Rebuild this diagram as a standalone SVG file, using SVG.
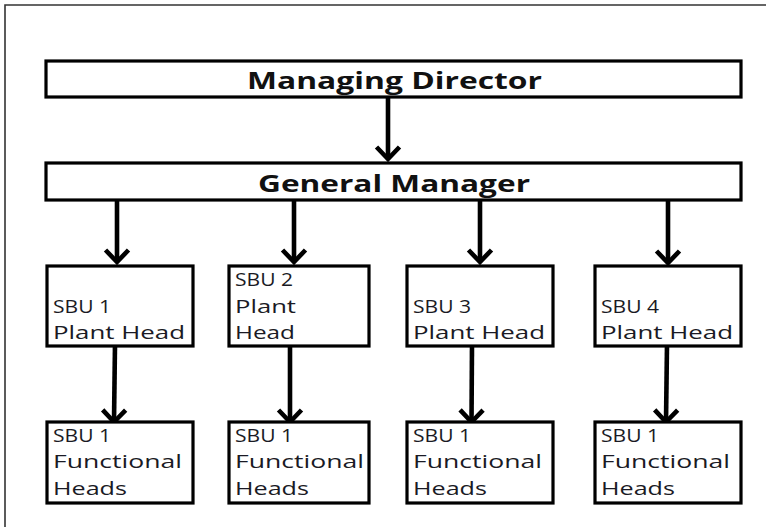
<svg xmlns="http://www.w3.org/2000/svg" width="766" height="527" viewBox="0 0 766 527">
  <defs>
    <style>
      .frame { fill: none; stroke: #333; stroke-width: 1.6; }
      .box { fill: #fff; stroke: #000; stroke-width: 3.2; }
      .title { font-family: "Open Sans", "Liberation Sans", sans-serif; font-weight: bold; font-size: 23px; fill: #111; }
      .label { font-family: "Open Sans", "Liberation Sans", sans-serif; font-size: 17.5px; fill: #1a1a24; }
      .conn { stroke: #000; stroke-width: 4.6; fill: none; marker-end: url(#arrow); }
    </style>
    <marker id="arrow" markerUnits="userSpaceOnUse" markerWidth="40" markerHeight="40" viewBox="-20 -20 40 40" refX="0" refY="0" orient="auto">
      <path d="M -12 -11.5 L 0 0 L -12 11.5" fill="none" stroke="#000" stroke-width="4.6" stroke-linejoin="miter"/>
    </marker>
  </defs>

  <rect width="766" height="527" fill="#fff"/>
  <!-- outer frame (left and top edges) -->
  <path class="frame" d="M 5 527 L 5 5 L 766 5"/>

  <!-- connectors -->
  <g id="connectors">
    <line class="conn" x1="388" y1="98" x2="388" y2="159"/>
    <line class="conn" x1="117" y1="201" x2="117" y2="262"/>
    <line class="conn" x1="294" y1="201" x2="294" y2="262"/>
    <line class="conn" x1="480" y1="201" x2="480" y2="262"/>
    <line class="conn" x1="668" y1="201" x2="668" y2="263"/>
    <line class="conn" x1="115" y1="344" x2="114" y2="422"/>
    <line class="conn" x1="290" y1="344" x2="290" y2="422"/>
    <line class="conn" x1="472" y1="344" x2="471.5" y2="422"/>
    <line class="conn" x1="667" y1="344" x2="666" y2="422"/>
  </g>

  <g id="managing-director">
    <rect class="box" x="46" y="61" width="695" height="36"/>
    <text class="title" x="247" y="89" textLength="295" lengthAdjust="spacingAndGlyphs">Managing Director</text>
  </g>

  <g id="general-manager">
    <rect class="box" x="46" y="163" width="695" height="37"/>
    <text class="title" x="258" y="192" textLength="272" lengthAdjust="spacingAndGlyphs">General Manager</text>
  </g>

  <g id="sbu1-plant-head">
    <rect class="box" x="47" y="266" width="146" height="80"/>
    <text class="label" x="53" y="313" textLength="58" lengthAdjust="spacingAndGlyphs">SBU 1</text>
    <text class="label" x="53" y="339" textLength="132" lengthAdjust="spacingAndGlyphs">Plant Head</text>
  </g>

  <g id="sbu2-plant-head">
    <rect class="box" x="229" y="266" width="140" height="80"/>
    <text class="label" x="235" y="286" textLength="58" lengthAdjust="spacingAndGlyphs">SBU 2</text>
    <text class="label" x="235" y="313" textLength="61" lengthAdjust="spacingAndGlyphs">Plant</text>
    <text class="label" x="235" y="339" textLength="60" lengthAdjust="spacingAndGlyphs">Head</text>
  </g>

  <g id="sbu3-plant-head">
    <rect class="box" x="407" y="266" width="146" height="80"/>
    <text class="label" x="413" y="313" textLength="58" lengthAdjust="spacingAndGlyphs">SBU 3</text>
    <text class="label" x="413" y="339" textLength="132" lengthAdjust="spacingAndGlyphs">Plant Head</text>
  </g>

  <g id="sbu4-plant-head">
    <rect class="box" x="595" y="266" width="146" height="80"/>
    <text class="label" x="601" y="313" textLength="58" lengthAdjust="spacingAndGlyphs">SBU 4</text>
    <text class="label" x="601" y="339" textLength="132" lengthAdjust="spacingAndGlyphs">Plant Head</text>
  </g>

  <g id="sbu1-functional-heads-a">
    <rect class="box" x="47" y="422" width="146" height="81"/>
    <text class="label" x="53" y="442" textLength="58" lengthAdjust="spacingAndGlyphs">SBU 1</text>
    <text class="label" x="53" y="468" textLength="129" lengthAdjust="spacingAndGlyphs">Functional</text>
    <text class="label" x="53" y="495" textLength="74" lengthAdjust="spacingAndGlyphs">Heads</text>
  </g>

  <g id="sbu1-functional-heads-b">
    <rect class="box" x="229" y="422" width="140" height="81"/>
    <text class="label" x="235" y="442" textLength="58" lengthAdjust="spacingAndGlyphs">SBU 1</text>
    <text class="label" x="235" y="468" textLength="129" lengthAdjust="spacingAndGlyphs">Functional</text>
    <text class="label" x="235" y="495" textLength="74" lengthAdjust="spacingAndGlyphs">Heads</text>
  </g>

  <g id="sbu1-functional-heads-c">
    <rect class="box" x="407" y="422" width="146" height="81"/>
    <text class="label" x="413" y="442" textLength="58" lengthAdjust="spacingAndGlyphs">SBU 1</text>
    <text class="label" x="413" y="468" textLength="129" lengthAdjust="spacingAndGlyphs">Functional</text>
    <text class="label" x="413" y="495" textLength="74" lengthAdjust="spacingAndGlyphs">Heads</text>
  </g>

  <g id="sbu1-functional-heads-d">
    <rect class="box" x="595" y="422" width="146" height="81"/>
    <text class="label" x="601" y="442" textLength="58" lengthAdjust="spacingAndGlyphs">SBU 1</text>
    <text class="label" x="601" y="468" textLength="129" lengthAdjust="spacingAndGlyphs">Functional</text>
    <text class="label" x="601" y="495" textLength="74" lengthAdjust="spacingAndGlyphs">Heads</text>
  </g>
</svg>
